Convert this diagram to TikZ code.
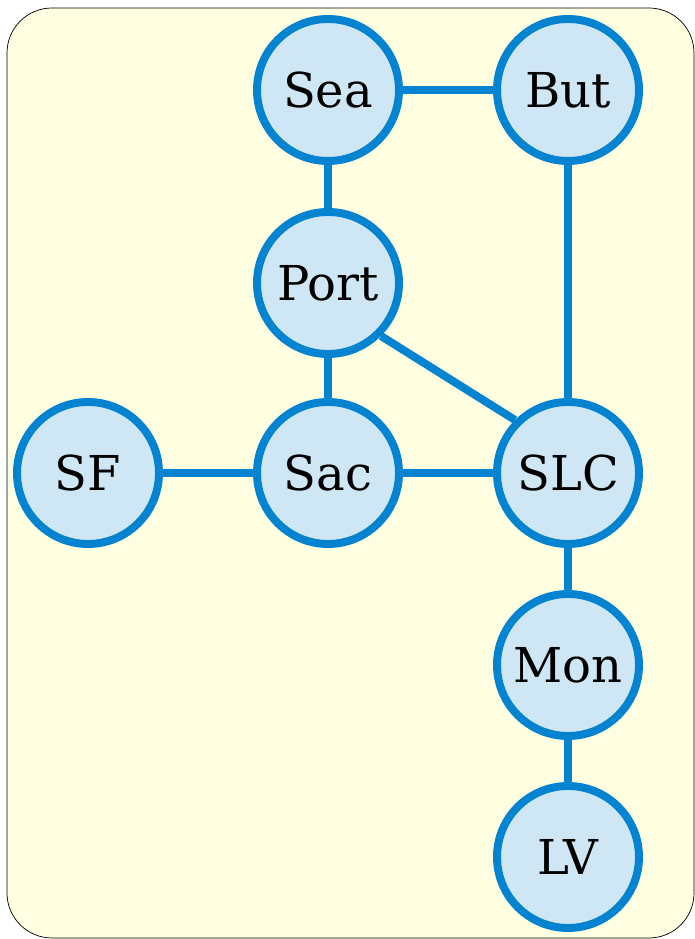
\documentclass[tikz,border=0pt]{standalone}
\usepackage{fontspec}
\setmainfont{DejaVu Serif}
\usepackage{tikz}

\definecolor{cityblue}{HTML}{0484D0}
\definecolor{cityfill}{HTML}{CFE6F5}
\definecolor{mapyellow}{HTML}{FFFEE0}

\begin{document}
\begin{tikzpicture}[
    city/.style={shape=circle,draw=cityblue,fill=cityfill,line width=6.8pt,minimum size=4.26cm,
      font=\fontsize{41}{48}\selectfont},
    road/.style={draw=cityblue,line width=6.8pt}]
      \useasboundingbox (0,0) rectangle (20.85,28.17);
      \draw[fill=mapyellow,draw=black,line width=0.6pt,rounded corners=1.35cm] (0.21,0.03) rectangle (20.82,27.93);

      \node[city] (Sea) at (9.84,25.47) {Sea};
      \node[city] (But) at (17.04,25.47) {But};
      \node[city] (Port) at (9.84,19.68) {Port};
      \node[city] (SF) at (2.64,13.98) {SF};
      \node[city] (Sac) at (9.84,13.98) {Sac};
      \node[city] (SLC) at (17.04,13.98) {SLC};
      \node[city] (Mon) at (17.04,8.22) {Mon};
      \node[city] (LV) at (17.04,2.46) {LV};

      \path [road] (Sea) -- (But);
      \path [road] (Sea) -- (Port);
      \path [road] (But) -- (SLC);
      \path [road] (Port) -- (Sac);
      \path [road] (Port.south east) -- (SLC.north west);
      \path [road] (SF) -- (Sac);
      \path [road] (Sac) -- (SLC);
      \path [road] (SLC) -- (Mon);
      \path [road] (Mon) -- (LV);
    \end{tikzpicture}
\end{document}
